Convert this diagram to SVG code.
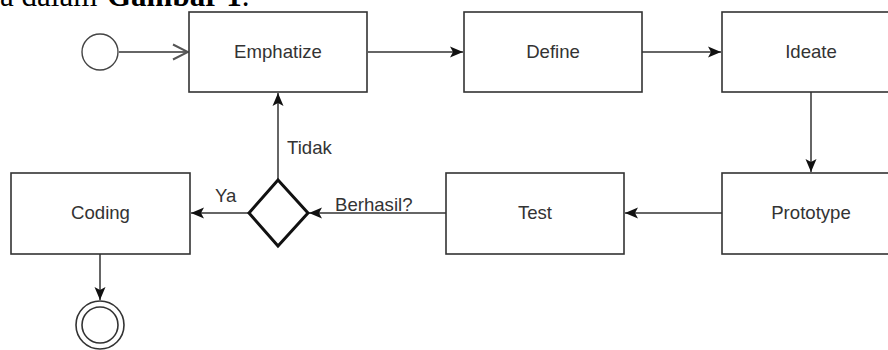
<svg xmlns="http://www.w3.org/2000/svg" width="888" height="350" viewBox="0 0 888 350">
<style>
  .box{fill:#fff;stroke:#333;stroke-width:1.6}
  .lbl{font-family:"Liberation Sans",Arial,sans-serif;font-size:18.6px;fill:#333}
  .c{text-anchor:middle}
  .edge{fill:none;stroke:#666;stroke-width:2}
  .cap{font-family:"Liberation Serif","Times New Roman",serif;font-size:31px;fill:#000}
</style>
<defs>
  <marker id="blk" markerUnits="userSpaceOnUse" markerWidth="14" markerHeight="12" viewBox="0 0 14 12" refX="13" refY="6" orient="auto">
    <path d="M0,0.5 L13,6 L0,11.5 L3,6 z" fill="#111"/>
  </marker>
  <marker id="opn" markerUnits="userSpaceOnUse" markerWidth="18" markerHeight="18" viewBox="0 0 18 18" refX="16" refY="9" orient="auto">
    <path d="M1,1.5 L16,9 L1,16.5" fill="none" stroke="#555" stroke-width="2"/>
  </marker>
</defs>
<rect width="888" height="350" fill="#fff"/>
<text class="cap" y="6"><tspan x="0">a dalam </tspan><tspan x="107" font-weight="bold">Gambar 1</tspan><tspan>.</tspan></text>

<g id="connectors">
  <line class="edge" x1="119" y1="52" x2="188" y2="52" marker-end="url(#opn)"/>
  <line class="edge" x1="368" y1="52" x2="463" y2="52" marker-end="url(#blk)"/>
  <line class="edge" x1="642" y1="52" x2="721" y2="52" marker-end="url(#blk)"/>
  <line class="edge" x1="811" y1="92" x2="811" y2="172" marker-end="url(#blk)"/>
  <line class="edge" x1="722" y1="213" x2="625" y2="213" marker-end="url(#blk)"/>
  <line class="edge" x1="446" y1="213" x2="309" y2="213" marker-end="url(#blk)"/>
  <line class="edge" x1="278" y1="180" x2="278" y2="93" marker-end="url(#blk)"/>
  <line class="edge" x1="249" y1="213" x2="191" y2="213" marker-end="url(#blk)"/>
  <line class="edge" x1="100" y1="254" x2="100" y2="300" marker-end="url(#blk)"/>
  <text class="lbl" x="287" y="154">Tidak</text>
  <text class="lbl" x="215" y="202">Ya</text>
  <text class="lbl" x="335" y="211">Berhasil?</text>
</g>

<g id="start"><circle cx="100" cy="52" r="18" fill="#fff" stroke="#444" stroke-width="1.4"/></g>
<g id="emphatize"><rect class="box" x="189" y="12" width="178" height="80"/><text class="lbl c" x="278" y="57.5">Emphatize</text></g>
<g id="define"><rect class="box" x="464" y="12" width="178" height="80"/><text class="lbl c" x="553" y="57.5">Define</text></g>
<g id="ideate"><rect class="box" x="722" y="12" width="178" height="80"/><text class="lbl c" x="811" y="57.5">Ideate</text></g>
<g id="prototype"><rect class="box" x="722" y="173" width="178" height="81"/><text class="lbl c" x="811" y="219">Prototype</text></g>
<g id="test"><rect class="box" x="446" y="173" width="178" height="81"/><text class="lbl c" x="535" y="219">Test</text></g>
<g id="decision"><polygon points="278,180 308,213 278,246 249,213" fill="#fff" stroke="#111" stroke-width="3"/></g>
<g id="coding"><rect class="box" x="11" y="173" width="179" height="81"/><text class="lbl c" x="100.5" y="219">Coding</text></g>
<g id="end"><circle cx="100" cy="325" r="24" fill="#fff" stroke="#333" stroke-width="1.6"/><circle cx="100" cy="325" r="18" fill="none" stroke="#333" stroke-width="1.6"/></g>
</svg>
